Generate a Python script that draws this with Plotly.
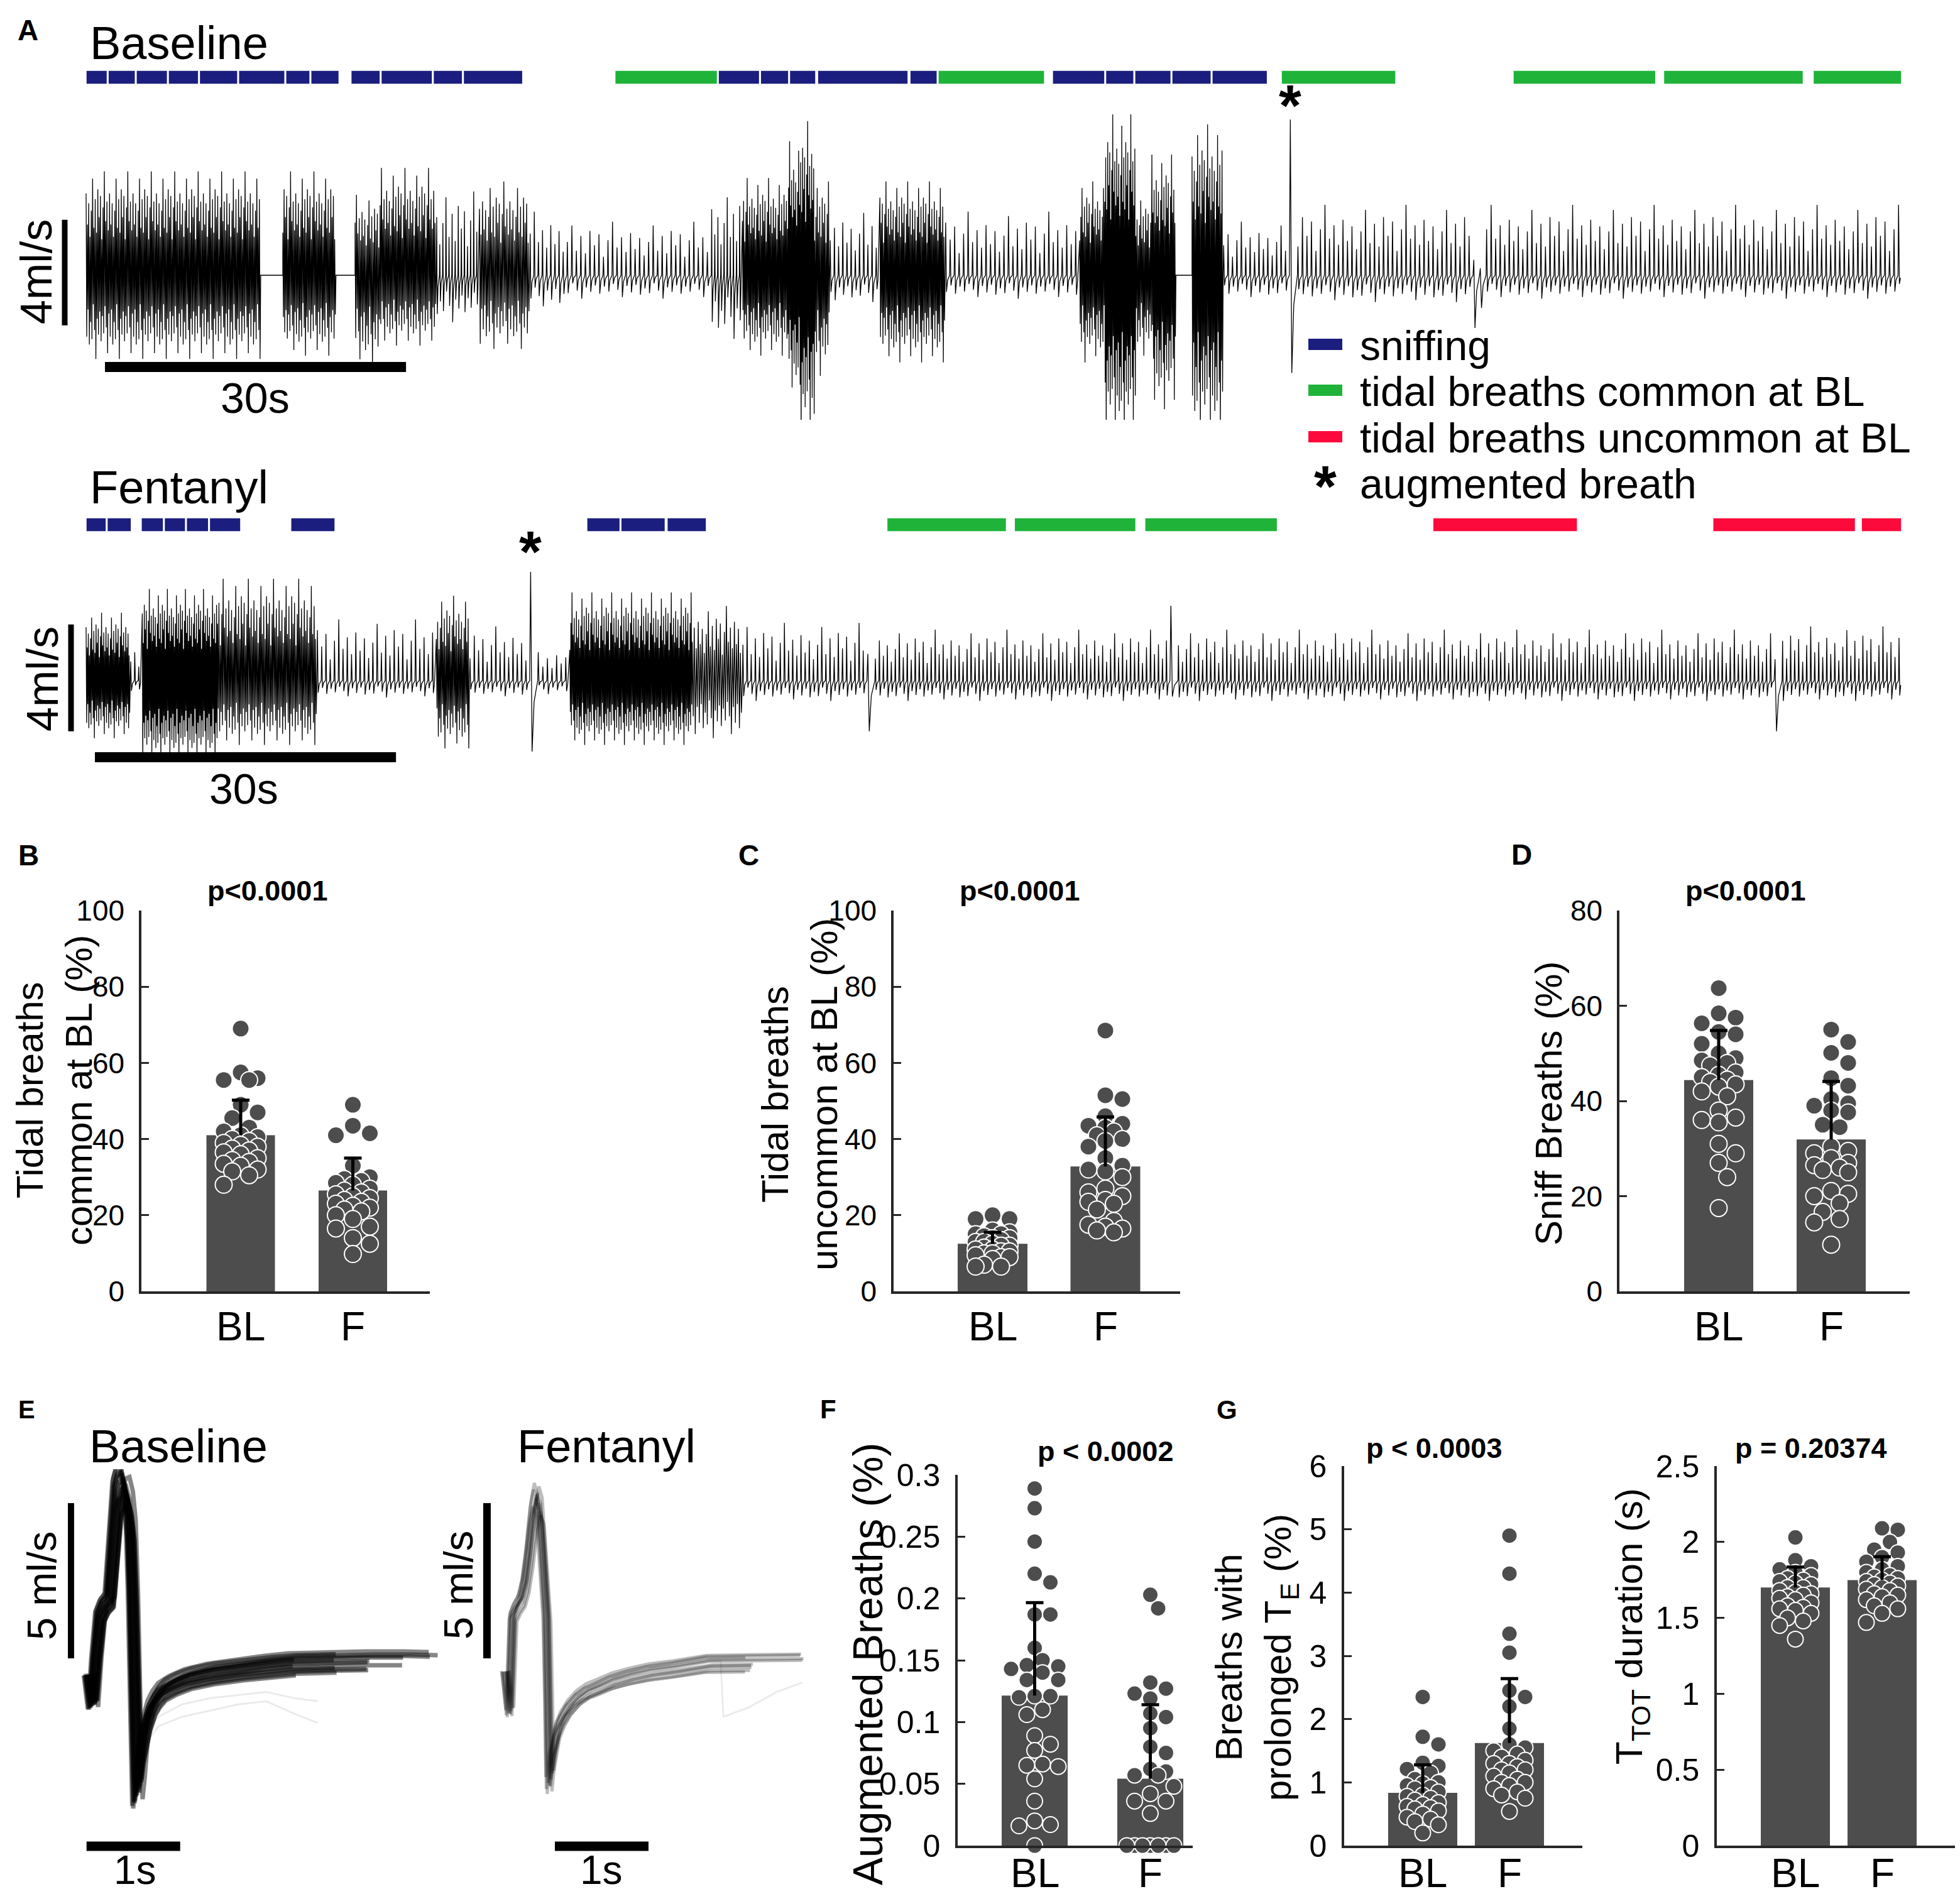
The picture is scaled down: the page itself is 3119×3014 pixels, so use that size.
import plotly.graph_objects as go

W, H = 3119, 3014
FONT = "Liberation Sans, Arial, sans-serif"
BAR_GRAY = "#4d4d4d"
AXIS_COL = "#262626"
SNIFF_COL = "#1b1e7e"
COMMON_COL = "#1fb33a"
UNCOMMON_COL = "#fd0a3c"

# ---------------- panel A (time in s, flow in ml/s)
BL_SNIFF = [(0.0, 2.1), (2.2, 4.9), (5.0, 8.1), (8.2, 11.2), (11.3, 15.1), (15.2, 19.8), (19.9, 22.3),
            (22.4, 25.2), (26.4, 29.3), (29.4, 34.5), (34.6, 37.5), (37.6, 43.5), (63.0, 67.1), (67.2, 70.0),
            (70.1, 72.7), (72.9, 81.9), (82.1, 84.8), (96.3, 101.5), (101.6, 104.4), (104.5, 108.1),
            (108.2, 112.1), (112.2, 117.7)]
BL_COMMON = [(52.7, 62.9), (84.9, 95.5), (119.1, 130.5), (142.2, 156.4), (157.2, 171.1), (172.1, 180.9)]
FEN_SNIFF = [(0.0, 2.0), (2.1, 4.5), (5.5, 7.7), (7.8, 9.9), (10.0, 12.2), (12.3, 15.4), (20.4, 24.8),
             (49.9, 53.2), (53.3, 57.7), (57.9, 61.8)]
FEN_COMMON = [(79.8, 91.7), (92.5, 104.6), (105.5, 118.7)]
FEN_UNCOMMON = [(134.2, 148.6), (162.1, 176.3), (176.9, 180.9)]

# trace epochs: start, end, cycle length (None = flat), peak, trough
BL_EPOCHS = [
    (0.0, 17.4, 0.13, 3.1, -2.5), (17.4, 19.6, None, 0, 0), (19.6, 24.9, 0.13, 3.1, -2.4),
    (24.9, 26.8, None, 0, 0), (26.8, 29.3, 0.14, 2.4, -2.7), (29.3, 34.9, 0.13, 3.2, -2.1),
    (34.9, 39.2, 0.3, 2.5, -1.4), (39.2, 44.2, 0.15, 2.8, -2.2), (44.2, 47.9, 0.4, 1.9, -1.0),
    (47.9, 62.3, 0.45, 1.6, -0.7), (62.3, 65.4, 0.3, 2.5, -1.9), (65.4, 69.9, 0.12, 2.9, -2.4),
    (69.9, 71.1, 0.1, 4.0, -3.6), (71.1, 72.6, 0.1, 4.6, -5.0), (72.6, 74.1, 0.12, 2.8, -3.0),
    (74.1, 79.1, 0.4, 2.0, -0.8), (79.1, 85.6, 0.12, 2.8, -2.6), (85.6, 99.0, 0.45, 1.9, -0.7),
    (99.0, 101.5, 0.12, 2.8, -2.6), (101.5, 104.6, 0.1, 4.8, -4.9), (104.6, 106.2, 0.12, 2.4, -2.4),
    (106.2, 108.6, 0.11, 3.6, -4.0), (108.6, 110.2, None, 0, 0), (110.2, 113.3, 0.11, 4.5, -4.9),
    (113.3, 119.9, 0.45, 1.6, -0.7), (119.9, 120.7, 0.8, 5.9, -3.7), (120.7, 138.2, 0.45, 2.1, -0.8),
    (138.2, 139.5, 0.6, 0.6, -2.0), (139.5, 181.0, 0.45, 2.1, -0.7),
]
FEN_EPOCHS = [
    (0.0, 4.4, 0.11, 2.0, -1.7), (4.4, 5.6, 0.4, 0.9, -0.4), (5.6, 13.1, 0.1, 2.7, -2.4),
    (13.1, 23.0, 0.14, 3.0, -1.9), (23.0, 34.9, 0.42, 1.8, -0.5), (34.9, 38.2, 0.13, 2.5, -2.0),
    (38.2, 44.2, 0.42, 1.6, -0.5), (44.2, 45.0, 0.8, 4.07, -2.66), (45.0, 48.2, 0.45, 0.9, -0.4),
    (48.2, 60.4, 0.11, 2.6, -1.9), (60.4, 65.4, 0.2, 2.2, -1.7), (65.4, 77.8, 0.42, 1.7, -0.6),
    (77.8, 78.6, 0.8, 1.0, -1.9), (78.6, 108.0, 0.4, 1.5, -0.6), (108.0, 108.8, 0.8, 2.8, -0.6),
    (108.8, 168.2, 0.4, 1.5, -0.6), (168.2, 169.0, 0.8, 0.8, -1.9), (169.0, 181.0, 0.4, 1.6, -0.6),
]
BL_AUG_T = 120.0
FEN_AUG_T = 44.3
# cycle-to-cycle amplitude ratios
VAR = [1.0, 0.62, 0.88, 0.47, 0.79, 1.18, 0.58, 0.93, 0.52, 1.05, 0.71, 0.97, 0.44, 0.83, 1.27, 0.66,
       0.9, 0.55]

SCALE_T = 30
SCALE_FLOW_A = 4

# ---------------- panel E: overlaid single breaths
E_BL_T = [0, 0.044, 0.08, 0.122, 0.17, 0.222, 0.26, 0.306, 0.34, 0.378, 0.415, 0.445, 0.47, 0.49, 0.505,
          0.518, 0.54, 0.572, 0.61, 0.668, 0.72, 0.779, 0.9, 1.057, 1.3, 1.614, 1.9, 2.17, 2.6, 3.0, 3.4, 3.67]
E_BL_F = [-0.34, -1.34, 0.2, 1.56, 1.9, 2.09, 3.6, 5.45, 5.8, 5.85, 5.4, 4.49, 2.2, -0.02, -2.4,
          -4.23, -3.6, -2.65, -2.0, -1.4, -1.1, -0.87, -0.65, -0.45, -0.28, -0.14, -0.04, 0.04, 0.08, 0.1, 0.1, 0.08]
E_BL_SCALE = [1.0, 0.93, 1.06, 0.88, 1.1, 0.97, 1.03, 0.91, 0.95, 1.08, 0.86, 1.01, 0.98, 1.04, 0.9, 1.05]
E_BL_LAG = [0.0, 0.03, -0.025, 0.05, -0.04, 0.012, 0.06, -0.03, 0.02, -0.05, 0.04, -0.012, 0.025, -0.02,
            0.045, -0.035]
E_BL_OFF = [0.0, -0.2, 0.15, -0.35, 0.1, -0.1, 0.2, -0.25, 0.05, -0.15, 0.25, -0.3, 0.1, -0.05, -0.4, 0.3]
E_BL_END = [3.0, 2.6, 3.67, 2.9, 3.4, 2.4, 3.67, 3.2, 2.8, 3.5, 2.7, 3.1, 2.5, 3.3, 2.2, 3.67]
E_BL_ODD_T = [0.49, 0.52, 0.6, 0.75, 1.0, 1.3, 1.6, 1.9, 2.2, 2.45]
E_BL_ODD_F = [[-0.02, -3.6, -2.6, -2.0, -1.7, -1.5, -1.3, -1.2, -1.6, -1.9],
              [-0.02, -3.0, -2.2, -1.7, -1.3, -1.1, -1.0, -0.9, -1.1, -1.2]]

E_FEN_T = [0, 0.047, 0.081, 0.12, 0.168, 0.21, 0.25, 0.3, 0.336, 0.37, 0.39, 0.42, 0.443, 0.46, 0.473,
           0.5, 0.557, 0.61, 0.68, 0.779, 0.88, 1.0, 1.15, 1.336, 1.55, 1.8, 2.168, 2.6, 3.174]
E_FEN_F = [-0.24, -1.6, 1.56, 1.85, 2.09, 2.6, 3.5, 4.9, 5.45, 5.1, 4.2, 2.8, 1.56, -1.2, -3.91,
           -3.2, -2.13, -1.75, -1.4, -1.07, -0.85, -0.7, -0.5, -0.34, -0.2, -0.1, 0.08, 0.1, 0.12]
E_FEN_SCALE = [1.0, 0.9, 1.07, 0.95, 1.03, 0.88, 0.98, 1.05, 0.93, 1.01]
E_FEN_LAG = [0.0, 0.03, -0.025, 0.015, -0.035, 0.045, -0.015, 0.025, -0.04, 0.01]
E_FEN_OFF = [0.0, -0.2, 0.15, -0.3, 0.1, -0.1, 0.2, -0.15, -0.35, 0.05]
E_FEN_END = [3.174, 2.9, 3.174, 2.7, 3.1, 2.8, 3.174, 3.0, 2.6, 3.174]
E_FEN_ODD_T = [2.168, 2.3, 2.33, 2.6, 2.9, 3.174]
E_FEN_ODD_F = [0.08, 0.1, -1.7, -1.4, -0.9, -0.6]
SCALE_FLOW_E = 5
SCALE_T_E = 1

# ---------------- bar panels B, C, D, F, G
GROUPS = ["BL", "F"]
B_BL = [69, 57.5, 56, 55.5, 55.5, 49, 47, 45.5, 43, 42, 41, 40.5, 40, 39.5, 39, 38.5, 38, 37.5, 37, 36.5,
        36, 35, 34.5, 34, 33.5, 33, 32, 31.5, 30.5, 28]
B_F = [49, 43.5, 41.5, 41, 33, 30, 29.5, 29, 28.5, 28, 27, 26.5, 26, 25.5, 25, 24.5, 24, 23.5, 23, 22.5,
       22, 21.5, 21, 20, 19, 17, 16.5, 14, 12.5, 9.8]
B_MEAN = [41.0, 26.5]
B_SD = [9.2, 8.5]
C_BL = [20, 19, 19, 16, 15.5, 15, 15, 14.5, 14, 14, 13.5, 13, 13, 12.5, 12, 12, 11.5, 11, 11, 10.5, 10.5,
        10, 10, 9.5, 9, 9, 8.5, 7, 6.5, 6.5]
C_F = [68.5, 51.5, 50.5, 46, 44, 43.5, 43, 42, 41, 40, 39.5, 38, 35, 33, 32, 31.5, 30, 27, 26, 25, 24,
       23.5, 23, 21.5, 18.5, 17.5, 17, 16.5, 16, 15.5]
C_MEAN = [12.5, 32.8]
C_SD = [3.0, 13.0]
D_BL = [63.7, 58.4, 57.5, 56.3, 54.5, 54, 52, 50, 49, 48.5, 48, 47.5, 46, 45.5, 45, 44.5, 44, 43.5, 43,
        42, 41, 38, 36.5, 36, 35.5, 31, 29, 27, 24, 17.5]
D_F = [55, 52.4, 50.1, 48, 44.8, 43.2, 40.4, 39.5, 39, 38, 37.6, 35, 34.5, 30.4, 29.5, 29, 28, 27, 26.5,
       26, 25.5, 25, 21.1, 20.5, 20, 18.5, 16.7, 15.2, 14.5, 9.8]
D_MEAN = [44.4, 31.9]
D_SD = [10.4, 12.2]
AUG_BL = [0.289, 0.273, 0.246, 0.220, 0.213, 0.187, 0.187, 0.160, 0.150, 0.146, 0.145, 0.143, 0.140,
          0.134, 0.134, 0.121, 0.121, 0.120, 0.110, 0.106, 0.089, 0.082, 0.077, 0.066, 0.065, 0.064,
          0.054, 0.036, 0.020, 0.017, 0.016, 0.0]
AUG_F = [0.203, 0.192, 0.132, 0.127, 0.123, 0.119, 0.107, 0.104, 0.095, 0.080, 0.075, 0.062, 0.060,
         0.057, 0.057, 0.048, 0.042, 0.036, 0.036, 0.026, 0, 0, 0, 0, 0, 0, 0]
AUG_MEAN = [0.1214, 0.0541]
AUG_SD = [0.0752, 0.0599]
TE_BL = [2.35, 1.72, 1.6, 1.31, 1.26, 1.21, 1.15, 1.05, 1.0, 0.98, 0.95, 0.92, 0.9, 0.85, 0.8, 0.78,
         0.75, 0.72, 0.68, 0.65, 0.62, 0.6, 0.58, 0.55, 0.5, 0.45, 0.42, 0.38, 0.33, 0.2]
TE_F = [4.9, 4.3, 3.35, 3.05, 2.45, 2.35, 2.2, 1.85, 1.6, 1.55, 1.5, 1.45, 1.4, 1.35, 1.3, 1.3, 1.25,
        1.2, 1.2, 1.15, 1.1, 1.05, 1.0, 1.0, 0.95, 0.9, 0.85, 0.8, 0.75, 0.54]
TE_MEAN = [0.834, 1.622]
TE_SD = [0.443, 1.018]
TTOT_BL = [2.03, 1.88, 1.84, 1.82, 1.8, 1.78, 1.76, 1.75, 1.74, 1.73, 1.72, 1.7, 1.7, 1.68, 1.67, 1.66,
           1.65, 1.64, 1.63, 1.62, 1.6, 1.58, 1.57, 1.56, 1.55, 1.53, 1.5, 1.48, 1.45, 1.36]
TTOT_F = [2.09, 2.08, 2.0, 1.95, 1.93, 1.9, 1.87, 1.84, 1.82, 1.8, 1.78, 1.77, 1.76, 1.75, 1.74, 1.73,
          1.72, 1.71, 1.7, 1.69, 1.68, 1.66, 1.65, 1.64, 1.62, 1.6, 1.58, 1.56, 1.53, 1.47]
TTOT_MEAN = [1.70, 1.749]
TTOT_SD = [0.135, 0.154]


def fx(p):
    return p / W


def fy(p):
    return 1 - p / H


def xrange_px(lo, hi, ref_px, ref_val, ppu):
    return [ref_val + (lo - ref_px) / ppu, ref_val + (hi - ref_px) / ppu]


def yrange_px(bottom, top, ref_px, ref_val, ppu):
    return [ref_val + (ref_px - bottom) / ppu, ref_val + (ref_px - top) / ppu]


def hidden(domain, rng, anchor):
    return dict(domain=domain, range=rng, anchor=anchor, visible=False, fixedrange=True,
                showgrid=False, zeroline=False)


def ann(text, x, y, size, bold=False, angle=0, xa="center", ya="middle", xref="paper"):
    return dict(text=f"<b>{text}</b>" if bold else text, x=x if xref != "paper" else fx(x), y=fy(y),
                xref=xref, yref="paper", showarrow=False, textangle=angle, xanchor=xa, yanchor=ya,
                font=dict(size=size, color="black", family=FONT))


def expand(epochs):
    ts, ys = [], []
    k = 0
    for t0, t1, period, up, down in epochs:
        if period is None:
            ts += [t0, t1]
            ys += [0.0, 0.0]
            continue
        n = max(1, int(round((t1 - t0) / period)))
        p = (t1 - t0) / n
        for j in range(n):
            t = t0 + j * p
            m1 = 1.0 if n == 1 else VAR[k % len(VAR)]
            m2 = 1.0 if n == 1 else VAR[(k + 7) % len(VAR)]
            k += 1
            if p < 0.25:
                ts += [t, t + p / 2]
                ys += [up * m1, down * m2]
            else:
                ts += [t, t + 0.12 * p, t + 0.3 * p, t + 0.55 * p]
                ys += [0.0, up * m1, down * m2, down * 0.3 * m2]
    return ts, ys


def swarm(values, ppu, diam, max_off):
    order = sorted(range(len(values)), key=lambda i: -values[i])
    step = diam * 0.5
    cands = [0.0]
    k = 1
    while k * step <= max_off + 0.01:
        cands += [k * step, -k * step]
        k += 1
    placed = []
    offs = [0.0] * len(values)
    for i in order:
        y = values[i] * ppu
        best, best_c, best_d = None, 0.0, -1
        for c in cands:
            d = min([((c - px) ** 2 + (y - py) ** 2) ** 0.5 for px, py in placed], default=1e9)
            if d >= diam * 0.9:
                best = c
                break
            if d > best_d:
                best_d, best_c = d, c
        if best is None:
            best = best_c
        placed.append((best, y))
        offs[i] = best
    return offs


fig = go.Figure()
axes = {}
annotations = []
shapes = []

# ---------------- panel A traces
TRACE_X = dict(lo=80, hi=3040, ref=129, ppu=15.97)
rows = [
    ("", "2", (160, 660), 430, 42.0, BL_EPOCHS,
     [(BL_SNIFF, SNIFF_COL), (BL_COMMON, COMMON_COL)], (104, 126), 95, 576, 1.88),
    ("2", "4", (880, 1240), 1075, 42.5, FEN_EPOCHS,
     [(FEN_SNIFF, SNIFF_COL), (FEN_COMMON, COMMON_COL), (FEN_UNCOMMON, UNCOMMON_COL)], (816, 838), 105, 1197, 0.88),
]
for idx, (xs, ybar, (dtop, dbot), zero_px, ppu, epochs, segs, (rtop, rbot), sbar_x, sbar_y, sbar_t0) in enumerate(rows):
    xname = "x" + xs
    ysuf = "" if idx == 0 else "3"
    ytr = "y" + ysuf
    yb = "y" + ybar
    xr = xrange_px(TRACE_X["lo"], TRACE_X["hi"], TRACE_X["ref"], 0.0, TRACE_X["ppu"])
    axes["xaxis" + xs] = hidden([fx(TRACE_X["lo"]), fx(TRACE_X["hi"])], xr, ytr)
    axes["yaxis" + ysuf] = hidden([fy(dbot), fy(dtop)], yrange_px(dbot, dtop, zero_px, 0.0, ppu), xname)
    axes["yaxis" + ybar] = hidden([fy(rbot), fy(rtop)], [0, 1], xname)
    ts, ys = expand(epochs)
    fig.add_trace(go.Scatter(x=ts, y=ys, mode="lines", line=dict(color="black", width=1.3),
                             xaxis=xname, yaxis=ytr, hoverinfo="skip"))
    for seglist, col in segs:
        fig.add_trace(go.Bar(x=[b - a for a, b in seglist], base=[a for a, b in seglist],
                             y=[0.5] * len(seglist), width=1, orientation="h",
                             marker=dict(color=col, line=dict(color="white", width=1.5)),
                             xaxis=xname, yaxis=yb, hoverinfo="skip"))
    t_bar = (sbar_x - TRACE_X["ref"]) / TRACE_X["ppu"]
    fig.add_trace(go.Scatter(x=[t_bar, t_bar], y=[-SCALE_FLOW_A / 2 + 0.1, SCALE_FLOW_A / 2 + 0.1],
                             mode="lines", line=dict(color="black", width=9),
                             xaxis=xname, yaxis=ytr, hoverinfo="skip"))
    y_bar = (zero_px - sbar_y) / ppu
    fig.add_trace(go.Scatter(x=[sbar_t0, sbar_t0 + SCALE_T], y=[y_bar, y_bar], mode="lines",
                             line=dict(color="black", width=16), xaxis=xname, yaxis=ytr, hoverinfo="skip"))

annotations += [
    ann("A", 36, 40, 46, bold=True),
    ann("Baseline", 133, 60, 74, xa="left"),
    ann("Fentanyl", 133, 768, 74, xa="left"),
    ann("4ml/s", 50, 425, 70, angle=-90),
    ann("4ml/s", 60, 1073, 70, angle=-90),
    ann(f"{SCALE_T}s", 398, 625, 68),
    ann(f"{SCALE_T}s", 380, 1247, 68),
    ann("*", BL_AUG_T, 160, 92, bold=True, xref="x"),
    ann("*", FEN_AUG_T, 870, 92, bold=True, xref="x2"),
]
# legend
LEG_ROWS = [540, 613, 687, 760]
LEG_TEXT = ["sniffing", "tidal breaths common at BL", "tidal breaths uncommon at BL", "augmented breath"]
for yy, col in zip(LEG_ROWS[:3], [SNIFF_COL, COMMON_COL, UNCOMMON_COL]):
    shapes.append(dict(type="rect", xref="paper", yref="paper", x0=fx(2074), x1=fx(2128),
                       y0=fy(yy + 9), y1=fy(yy - 9), fillcolor=col, line=dict(width=0)))
for yy, txt in zip(LEG_ROWS, LEG_TEXT):
    annotations.append(ann(txt, 2154, yy + 2, 66, xa="left"))
annotations.append(ann("*", 2101, LEG_ROWS[3] + 6, 92, bold=True))

# ---------------- panel E
E_Y = (2330, 2950, 2640, 49.4)
e_panels = [
    ("3", "5", (100, 700), 132.7, E_BL_T, E_BL_F, E_BL_SCALE, E_BL_LAG, E_BL_OFF, E_BL_END,
     "rgba(0,0,0,0.48)", 7, [(E_BL_ODD_T, f) for f in E_BL_ODD_F], -0.193, (-0.02, -5.87)),
    ("4", "6", (760, 1290), 796, E_FEN_T, E_FEN_F, E_FEN_SCALE, E_FEN_LAG, E_FEN_OFF, E_FEN_END,
     "rgba(0,0,0,0.26)", 5, [(E_FEN_ODD_T, E_FEN_ODD_F)], -0.195, (0.53, -5.87)),
]
for xs, ys_, (xl, xh), t0px, tt, ff, scl, lag, off, end, col, lw, odd, vbar_t, (hbar_t, hbar_y) in e_panels:
    xname, yname = "x" + xs, "y" + ys_
    axes["xaxis" + xs] = hidden([fx(xl), fx(xh)], xrange_px(xl, xh, t0px, 0.0, 149), yname)
    axes["yaxis" + ys_] = hidden([fy(E_Y[1]), fy(E_Y[0])],
                                 yrange_px(E_Y[1], E_Y[0], E_Y[2], 0.0, E_Y[3]), xname)
    for ot, of in odd:
        base_t = [t for t in tt if t < ot[0]]
        base_f = [f for t, f in zip(tt, ff) if t < ot[0]]
        fig.add_trace(go.Scatter(x=base_t + ot, y=base_f + of, mode="lines",
                                 line=dict(color="rgba(0,0,0,0.08)", width=3),
                                 xaxis=xname, yaxis=yname, hoverinfo="skip"))
    for s, lg, o, e in zip(scl, lag, off, end):
        px_ = [t + lg for t in tt if t <= e]
        py_ = [f * s + (o if t > 0.55 else 0) for t, f in zip(tt, ff) if t <= e]
        fig.add_trace(go.Scatter(x=px_, y=py_, mode="lines", line=dict(color=col, width=lw),
                                 xaxis=xname, yaxis=yname, hoverinfo="skip"))
    fig.add_trace(go.Scatter(x=[vbar_t, vbar_t], y=[0.18, 0.18 + SCALE_FLOW_E], mode="lines",
                             line=dict(color="black", width=12), xaxis=xname, yaxis=yname, hoverinfo="skip"))
    fig.add_trace(go.Scatter(x=[hbar_t, hbar_t + SCALE_T_E], y=[hbar_y, hbar_y], mode="lines",
                             line=dict(color="black", width=15), xaxis=xname, yaxis=yname, hoverinfo="skip"))

annotations += [
    ann("E", 34, 2235, 40, bold=True),
    ann("Baseline", 276, 2293, 74),
    ann("Fentanyl", 957, 2293, 74),
    ann(f"{SCALE_FLOW_E} ml/s", 58, 2515, 65, angle=-90),
    ann(f"{SCALE_FLOW_E} ml/s", 721, 2515, 65, angle=-90),
    ann(f"{SCALE_T_E}s", 207, 2968, 64),
    ann(f"{SCALE_T_E}s", 949, 2968, 64),
]

# ---------------- bar panels
PANELS = [
    (B_BL, B_F, B_MEAN, B_SD, "5", "7", (217, 676, 375, 553.5, 109), (1441, 2047), 100, 20, 27, 30, 46, 2103),
    (C_BL, C_F, C_MEAN, C_SD, "6", "8", (1414, 1870, 1571.5, 1751, 111), (1441, 2047), 100, 20, 27, 38, 46, 2103),
    (D_BL, D_F, D_MEAN, D_SD, "7", "9", (2569, 3031, 2727, 2906, 110), (1441, 2047), 80, 20, 27, 30, 46, 2103),
    (AUG_BL, AUG_F, AUG_MEAN, AUG_SD, "8", "10", (1516, 1890, 1638.5, 1822.5, 105), (2339, 2929), 0.3, 0.05, 25, 46, 50, 2973),
    (TE_BL, TE_F, TE_MEAN, TE_SD, "9", "11", (2131, 2510, 2256, 2394, 110), (2325, 2929), 6, 1, 25, 30, 50, 2973),
    (TTOT_BL, TTOT_F, TTOT_MEAN, TTOT_SD, "10", "12", (2724, 3114, 2849, 2987, 110), (2325, 2929), 2.5, 0.5, 25, 30, 50, 2973),
]
for v_bl, v_f, means, sds, xs, ys_, (left, right, c1, c2, bw), (top, bot), ymax, dtick, diam, spread, tfs, lab_y in PANELS:
    xname, yname = "x" + xs, "y" + ys_
    sp = c2 - c1
    ppu = (bot - top) / ymax
    axes["xaxis" + xs] = dict(domain=[fx(left), fx(right)], range=[1 - (c1 - left) / sp, 2 + (right - c2) / sp],
                              anchor=yname, showline=True, linecolor=AXIS_COL, linewidth=3.5, ticks="",
                              showticklabels=False, showgrid=False, zeroline=False, fixedrange=True,
                              automargin=False)
    axes["yaxis" + ys_] = dict(domain=[fy(bot), fy(top)], range=[0, ymax], anchor=xname, showline=True,
                               linecolor=AXIS_COL, linewidth=3.5, ticks="inside", ticklen=12, tickwidth=3,
                               tickcolor=AXIS_COL, dtick=dtick, tick0=0, showgrid=False, zeroline=False,
                               tickfont=dict(size=tfs, color="black", family=FONT), ticklabelstandoff=14,
                               fixedrange=True, automargin=False)
    fig.add_trace(go.Bar(x=[1, 2], y=means, width=bw / sp, marker=dict(color=BAR_GRAY, line=dict(width=0)),
                         xaxis=xname, yaxis=yname, hoverinfo="skip"))
    for gi, vals in enumerate([v_bl, v_f]):
        offs = swarm(vals, ppu, diam, spread)
        fig.add_trace(go.Scatter(x=[gi + 1 + o / sp for o in offs], y=vals, mode="markers", cliponaxis=False,
                                 marker=dict(size=diam, color=BAR_GRAY, line=dict(color="white", width=2)),
                                 xaxis=xname, yaxis=yname, hoverinfo="skip"))
        annotations.append(ann(GROUPS[gi], gi + 1, lab_y, 64, xref=xname))
    ex, ey = [], []
    cap = 14 / sp
    for gi, (m, s) in enumerate(zip(means, sds)):
        c = gi + 1
        ex += [c, c, None, c - cap, c + cap, None]
        ey += [m, m + s, None, m + s, m + s, None]
    fig.add_trace(go.Scatter(x=ex, y=ey, mode="lines", line=dict(color="black", width=5),
                             xaxis=xname, yaxis=yname, hoverinfo="skip", cliponaxis=False))

annotations += [
    ann("B", 37, 1353, 46, bold=True),
    ann("C", 1183, 1353, 46, bold=True),
    ann("D", 2413, 1352, 46, bold=True),
    ann("F", 1310, 2234, 42, bold=True),
    ann("G", 1944, 2235, 42, bold=True),
    ann("p<0.0001", 417, 1409, 45, bold=True),
    ann("p<0.0001", 1614, 1409, 45, bold=True),
    ann("p<0.0001", 2769, 1409, 45, bold=True),
    ann("p < 0.0002", 1751, 2301, 45, bold=True),
    ann("p < 0.0003", 2274, 2296, 45, bold=True),
    ann("p = 0.20374", 2873, 2296, 45, bold=True),
    ann("Tidal breaths<br>common at BL (%)", 78, 1727, 60, angle=-90),
    ann("Tidal breaths<br>uncommon at BL (%)", 1264, 1734, 60, angle=-90),
    ann("Sniff Breaths (%)", 2456, 1748, 60, angle=-90),
    ann("Augmented Breaths (%)", 1373, 2640, 66, angle=-90),
    ann("Breaths with<br>prolonged T<sub>E</sub> (%)", 1991, 2630, 60, angle=-90),
    ann("T<sub>TOT</sub> duration (s)", 2589, 2580, 60, angle=-90),
]

fig.update_layout(width=W, height=H, autosize=False,
                  margin=dict(l=0, r=0, t=0, b=0, pad=0, autoexpand=False),
                  paper_bgcolor="white", plot_bgcolor="rgba(0,0,0,0)", showlegend=False, barmode="overlay",
                  font=dict(family=FONT, color="black"), annotations=annotations, shapes=shapes, **axes)
fig.write_html("out.html")
